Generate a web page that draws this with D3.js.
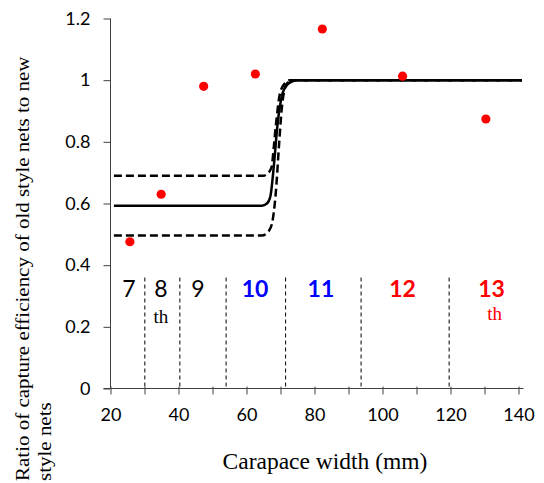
<!DOCTYPE html>
<html>
<head>
<meta charset="utf-8">
<script src="https://cdn.jsdelivr.net/npm/d3@7"></script>
<style>
  body { margin: 0; background: #fff; }
  svg { display: block; }
</style>
</head>
<body>
<div id="chart"></div>
<script>
"use strict";

// Observed ratios (red dots)
const pointX = [25.7, 34.9, 47.4, 62.6, 82.3, 105.9, 130.4];
const pointY = [0.476, 0.630, 0.980, 1.020, 1.166, 1.013, 0.874];

// Fitted curve and its confidence band
const fitX = [21, 64.5, 66, 67, 68.2, 69.06, 70.6, 72, 73.3, 75.2, 141];
const fitY = [0.593, 0.593, 0.600, 0.622, 0.741, 0.849, 0.957, 0.985, 0.995, 1.0, 1.0];
const upperX = [21, 64.9, 66.5, 67.4, 68, 68.6, 69.85, 71.3, 72.8, 141];
const upperY = [0.690, 0.690, 0.700, 0.719, 0.780, 0.849, 0.957, 0.990, 1.0, 1.0];
const lowerX = [21, 64.5, 66.5, 67.5, 68.6, 69.6, 70.3, 71, 72, 74, 141];
const lowerY = [0.496, 0.496, 0.510, 0.535, 0.633, 0.795, 0.900, 0.960, 0.990, 1.0, 1.0];

// Instar boundaries and labels
const boundaries = [30.1, 40.4, 54, 71.5, 93.7, 119.6];
const instarLabels = ["7", "8", "9", "10", "11", "12", "13"];
const instarX = [25.4, 34.85, 45.7, 62.5, 81.9, 105.9, 132.1];
const instarColor = ["#000", "#000", "#000", "#0000ff", "#0000ff", "#ff0000", "#ff0000"];
const instarBold = [false, false, false, true, true, true, true];
const suffixFor = ["8", "13"];

// Axis ticks
const xTicks = [20, 30, 40, 50, 60, 70, 80, 90, 100, 110, 120, 130, 140];
const xLabels = [20, 40, 60, 80, 100, 120, 140];
const yTicks = [0, 0.2, 0.4, 0.6, 0.8, 1, 1.2];

const width = 544;
const height = 483;
const axisColor = "#404040";
const sans = "Lato, 'Open Sans', sans-serif";
const serif = "'Liberation Serif', 'DejaVu Serif', serif";

const x = d3.scaleLinear().domain([20, 140]).range([110.5, 518.5]);
const y = d3.scaleLinear().domain([0, 1.2]).range([388.5, 18.5]);

const svg = d3.select("#chart").append("svg")
  .attr("width", width)
  .attr("height", height);

// Instar boundary lines (dashed verticals)
svg.append("g").selectAll("line")
  .data(boundaries)
  .join("line")
  .attr("x1", d => x(d)).attr("x2", d => x(d))
  .attr("y1", y(0.36)).attr("y2", y(0))
  .attr("stroke", "#000")
  .attr("stroke-width", 1)
  .attr("stroke-dasharray", "4,3");

// Instar numbers
svg.append("g").selectAll("text")
  .data(instarLabels)
  .join("text")
  .attr("x", (d, i) => x(instarX[i]))
  .attr("y", y(0.297))
  .attr("text-anchor", "middle")
  .style("font-family", sans)
  .style("font-size", "23px")
  .style("font-weight", (d, i) => instarBold[i] ? "bold" : "normal")
  .attr("fill", (d, i) => instarColor[i])
  .text(d => d);

// "th" suffixes
svg.append("g").selectAll("text")
  .data(suffixFor)
  .join("text")
  .attr("x", d => x(instarX[instarLabels.indexOf(d)]) + (d === "13" ? 3 : 0))
  .attr("y", d => d === "13" ? y(0.222) : y(0.212))
  .attr("text-anchor", "middle")
  .style("font-family", serif)
  .style("font-size", "19px")
  .attr("fill", d => instarColor[instarLabels.indexOf(d)])
  .text("th");

// Axes
const yAxis = d3.axisLeft(y).tickValues(yTicks).tickSize(7).tickFormat(d => d3.format("~g")(d));
const gy = svg.append("g").attr("transform", `translate(${x(20)},0)`).call(yAxis);
gy.select(".domain").attr("stroke", axisColor).attr("d", `M0,${y(1.2)}V${y(0)}`);
gy.selectAll(".tick line").attr("stroke", axisColor);
gy.selectAll(".tick text")
  .attr("x", -20)
  .style("font-family", sans)
  .style("font-size", "18px")
  .attr("fill", "#000");

const xAxis = d3.axisBottom(x).tickValues(xTicks).tickSize(6)
  .tickFormat(d => xLabels.includes(d) ? d : "");
const gx = svg.append("g").attr("transform", `translate(0,${y(0)})`).call(xAxis);
gx.select(".domain").attr("stroke", axisColor).attr("d", `M${x(20) - 7},0H${x(140) + 5}`);
gx.selectAll(".tick line").attr("stroke", axisColor).attr("y1", -2);
gx.selectAll(".tick text")
  .attr("y", 20)
  .style("font-family", sans)
  .style("font-size", "18px")
  .attr("fill", "#000");

// Curves
const line = d3.line()
  .x(d => x(d[0]))
  .y(d => y(d[1]))
  .curve(d3.curveMonotoneX);

const curves = [
  { xs: upperX, ys: upperY, dash: "8,4" },
  { xs: lowerX, ys: lowerY, dash: "8,4" },
  { xs: fitX, ys: fitY, dash: null }
];
svg.append("g").selectAll("path")
  .data(curves)
  .join("path")
  .attr("d", c => line(c.xs.map((v, i) => [v, c.ys[i]])))
  .attr("fill", "none")
  .attr("stroke", "#000")
  .attr("stroke-width", 2.5)
  .attr("stroke-dasharray", c => c.dash);

// Observed points
svg.append("g").selectAll("circle")
  .data(pointX)
  .join("circle")
  .attr("cx", d => x(d))
  .attr("cy", (d, i) => y(pointY[i]))
  .attr("r", 4.6)
  .attr("fill", "#ff0000");

// Axis titles
svg.append("text")
  .attr("x", 325)
  .attr("y", 469)
  .attr("text-anchor", "middle")
  .style("font-family", serif)
  .style("font-size", "23.5px")
  .text("Carapace width (mm)");

// y title glyphs are a little narrow in the reference, so squeeze them sideways
const yTitle = svg.append("text")
  .attr("transform", "translate(29,481) rotate(-90) scale(1,0.88)")
  .attr("text-anchor", "start")
  .style("font-family", serif)
  .style("font-size", "21px");
yTitle.append("tspan").attr("x", 0).attr("y", 0)
  .text("Ratio of capture efficiency of old style nets to new");
yTitle.append("tspan").attr("x", 0).attr("y", 24.5)
  .text("style nets");
</script>
</body>
</html>
